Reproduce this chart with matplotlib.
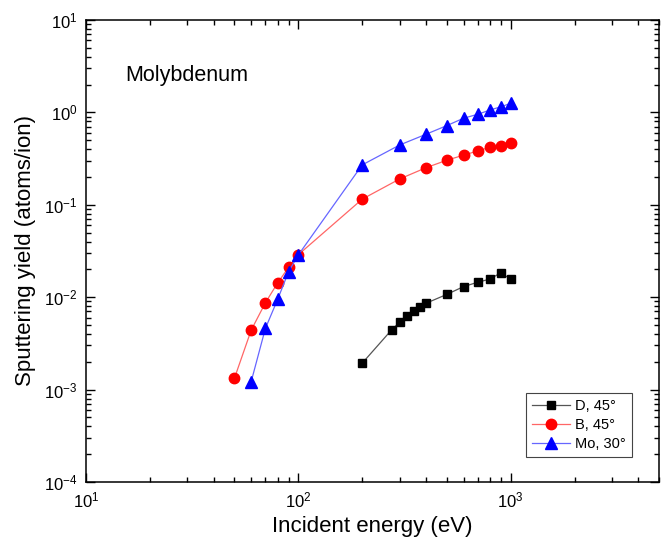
import numpy as np
import matplotlib.pyplot as plt
from matplotlib.ticker import LogLocator, NullFormatter

plt.rcParams["font.family"] = ["Liberation Sans", "DejaVu Sans"]
plt.rcParams["mathtext.fontset"] = "custom"
plt.rcParams["mathtext.rm"] = "Liberation Sans"
plt.rcParams["mathtext.it"] = "Liberation Sans"

# --- data ---
d_energy = [200, 275, 300, 325, 350, 375, 400, 500, 600, 700, 800, 900, 1000]
d_yield = [1.93e-3, 4.42e-3, 5.35e-3, 6.26e-3, 7.15e-3, 7.9e-3, 8.6e-3,
           1.07e-2, 1.30e-2, 1.45e-2, 1.57e-2, 1.84e-2, 1.56e-2]

b_energy = [50, 60, 70, 80, 90, 100, 200, 300, 400, 500, 600, 700, 800, 900, 1000]
b_yield = [1.32e-3, 4.4e-3, 8.7e-3, 1.43e-2, 2.1e-2, 2.88e-2, 0.115, 0.19,
           0.252, 0.303, 0.344, 0.382, 0.419, 0.436, 0.467]

mo_energy = [60, 70, 80, 90, 100, 200, 300, 400, 500, 600, 700, 800, 900, 1000]
mo_yield = [1.22e-3, 4.6e-3, 9.5e-3, 1.89e-2, 2.86e-2, 0.27, 0.443, 0.58,
            0.718, 0.863, 0.953, 1.06, 1.15, 1.25]

fig = plt.figure(figsize=(6.65, 5.39), dpi=100)
ax = fig.add_axes([0.1293, 0.1058, 0.8617, 0.8572])

ax.plot(d_energy, d_yield, color="#555555", lw=0.9, marker="s", ms=6,
        mfc="black", mec="black", label="D, 45°")
ax.plot(b_energy, b_yield, color="#ff6666", lw=0.9, marker="o", ms=7.5,
        mfc="red", mec="red", label="B, 45°")
ax.plot(mo_energy, mo_yield, color="#6666ff", lw=0.9, marker="^", ms=8.5,
        mfc="blue", mec="blue", label="Mo, 30°")

ax.set_xscale("log")
ax.set_yscale("log")
ax.set_xlim(10, 5000)
ax.set_ylim(1e-4, 10)

ax.xaxis.set_major_locator(LogLocator(base=10, numticks=10))
ax.yaxis.set_major_locator(LogLocator(base=10, numticks=10))
ax.xaxis.set_minor_locator(LogLocator(base=10, subs=np.arange(2, 10), numticks=20))
ax.yaxis.set_minor_locator(LogLocator(base=10, subs=np.arange(2, 10), numticks=20))
ax.xaxis.set_minor_formatter(NullFormatter())
ax.yaxis.set_minor_formatter(NullFormatter())

ax.tick_params(which="both", direction="in", top=True, right=True, width=1.0)
ax.tick_params(which="major", length=6.5, labelsize=12, pad=6)
ax.tick_params(which="minor", length=3.5)
for s in ax.spines.values():
    s.set_linewidth(1.1)

ax.set_xlabel("Incident energy (eV)", fontsize=16, labelpad=4)
ax.set_ylabel("Sputtering yield (atoms/ion)", fontsize=16, labelpad=6)

ax.text(0.068, 0.879, "Molybdenum", transform=ax.transAxes, fontsize=15.5,
        ha="left", va="center")

leg = ax.legend(loc="lower right", bbox_to_anchor=(0.953, 0.054),
                borderaxespad=0, fontsize=10.5, fancybox=False,
                edgecolor="#444444", framealpha=1, handlelength=2.6,
                labelspacing=0.35, borderpad=0.4, handletextpad=0.4)
leg.get_frame().set_linewidth(0.8)

fig.savefig("out.png", dpi=100)
